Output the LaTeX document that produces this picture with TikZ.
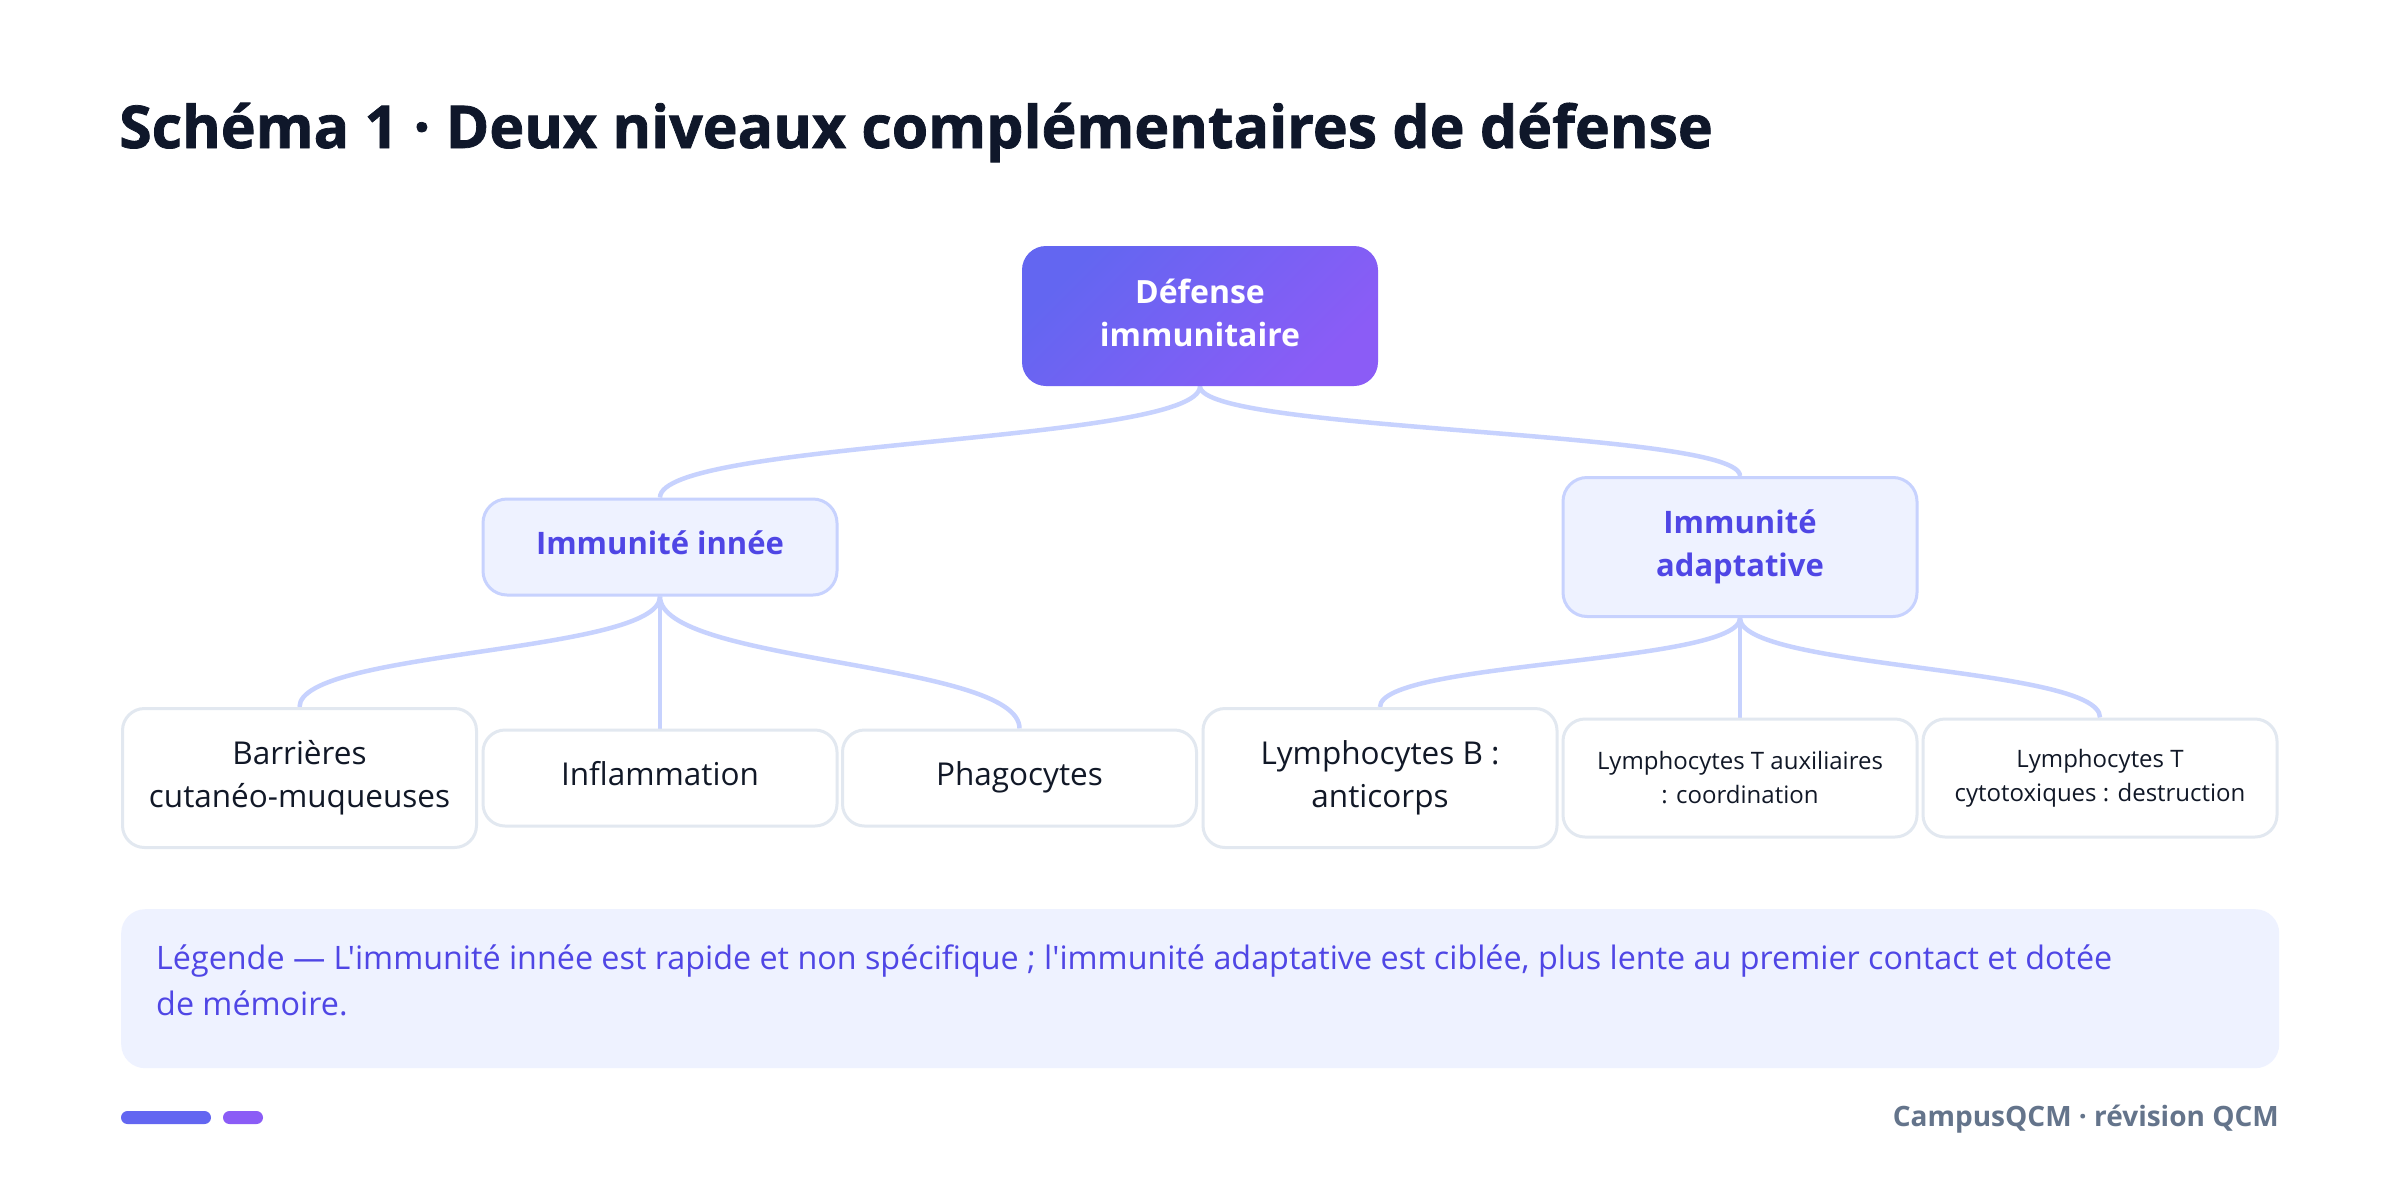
\documentclass[tikz,border=0pt]{standalone}
\usepackage{fontspec}
\setmainfont{Open Sans}
\newfontfamily\plainfont{Open Sans}
\newfontfamily\titlefont{Open Sans}[BoldFeatures={FakeBold=1.3}]
\usetikzlibrary{backgrounds,calc}
\pgfdeclarelayer{bottom}
\pgfsetlayers{bottom,background,main}
\definecolor{ink}{HTML}{0F172A}
\definecolor{leafink}{HTML}{111827}
\definecolor{indigoA}{HTML}{6366F1}
\definecolor{violetA}{HTML}{8B5CF6}
\definecolor{midfill}{HTML}{EEF2FF}
\definecolor{midline}{HTML}{C7D2FE}
\definecolor{midtext}{HTML}{4F46E5}
\definecolor{leafline}{HTML}{E2E8F0}
\definecolor{foot}{HTML}{64748B}
\newcommand{\dscrut}{\rule[-7.5pt]{0pt}{1pt}}
\tikzset{
  rootbox/.style={rounded corners=24, minimum width=356, minimum height=140, inner sep=0, align=center,
    left color=indigoA, right color=violetA, shading angle=45, text=white, font=\fontsize{32}{43}\selectfont\bfseries},
  midbox/.style={rounded corners=24, minimum width=354, inner sep=0, align=center, fill=midfill,
    draw=midline, line width=3, text=midtext, font=\fontsize{31}{43}\selectfont\bfseries},
  leafbox/.style={rounded corners=22, minimum width=354, inner sep=0, align=center, fill=white,
    draw=leafline, line width=3, text=leafink, font=\fontsize{31.5}{43}\selectfont},
  oneline/.style={text height=23, text depth=8},
  smallleaf/.style={leafbox, font=\fontsize{24}{34}\selectfont},
  conn/.style={draw=midline, line width=4.5},
  pill/.style={rounded corners=6.5, inner sep=0, minimum height=13}
}
\begin{document}
\begin{tikzpicture}[x=1pt,y=-1pt]
\begin{pgfonlayer}{bottom}
\fill[white] (0,0) rectangle (2400,1178);
\end{pgfonlayer}
\useasboundingbox (0,0) rectangle (2400,1178);
\node[anchor=base west, inner sep=0, text=ink, font=\titlefont\fontsize{59}{70}\selectfont\bfseries] (title) at (119,148)
  {Schéma 1 · Deux niveaux complémentaires de défense};

\node[rootbox] (root) at (1200,316) {Défense\\immunitaire\dscrut};
\node[midbox, oneline, minimum height=96] (inn) at (660,547) {Immunité innée};
\node[midbox, minimum height=139] (ada) at (1740,547) {Immunité\\adaptative};

\node[leafbox, minimum height=139] (bar) at (299.5,778) {Barrières\\cutanéo-muqueuses};
\node[leafbox, oneline, minimum height=96] (inf) at (660,778) {Inflammation};
\node[leafbox, oneline, minimum height=96] (pha) at (1019.5,778) {Phagocytes};
\node[leafbox, minimum height=139] (lb) at (1380,778) {Lymphocytes B :\\anticorps};
\node[smallleaf, minimum height=118] (lta) at (1740,778) {Lymphocytes T auxiliaires\\: coordination};
\node[smallleaf, minimum height=118] (ltc) at (2100,778) {Lymphocytes T\\cytotoxiques : destruction};

\begin{scope}[on background layer]
\draw[conn] (root.south) .. controls +(0,57) and +(0,-57) .. (inn.north);
\draw[conn] (root.south) .. controls +(0,46) and +(0,-46) .. (ada.north);
\draw[conn] (inn.south) .. controls +(0,57) and +(0,-57) .. (bar.north);
\draw[conn] (inn.south) -- (inf.north);
\draw[conn] (inn.south) .. controls +(0,67) and +(0,-67) .. (pha.north);
\draw[conn] (ada.south) .. controls +(0,46) and +(0,-46) .. (lb.north);
\draw[conn] (ada.south) -- (lta.north);
\draw[conn] (ada.south) .. controls +(0,51) and +(0,-51) .. (ltc.north);
\end{scope}

\node[fill=midfill, rounded corners=24, minimum width=2158, minimum height=159, inner sep=0, anchor=north west] (legbox) at (121,909) {};
\node[anchor=north west, inner sep=0, align=left, text=midtext, font=\plainfont\fontsize{32.3}{46}\selectfont] (legtext) at (156,945)
  {Légende — L'immunité innée est rapide et non spécifique ; l'immunité adaptative est ciblée, plus lente au premier contact et dotée\\de mémoire.};

\node[pill, fill=indigoA, minimum width=90] (pillA) at (166,1117.5) {};
\node[pill, fill=violetA, minimum width=40] (pillB) at (243,1117.5) {};
\node[anchor=east, inner sep=0, text=foot, font=\fontsize{28}{32}\selectfont\bfseries] (footer) at (2279,1119) {CampusQCM · révision QCM};
\end{tikzpicture}
\end{document}
